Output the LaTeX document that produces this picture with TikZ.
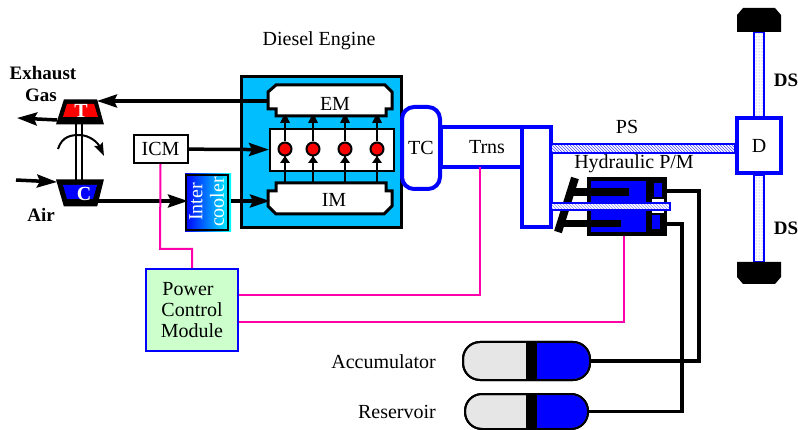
\documentclass[tikz,border=0pt]{standalone}
\usepackage{fontspec}
\setmainfont{Liberation Serif}
\usetikzlibrary{arrows.meta, patterns}

\definecolor{enginecyan}{RGB}{0,190,255}
\definecolor{pcmgreen}{RGB}{204,255,204}
\definecolor{wiremagenta}{RGB}{255,0,170}
\definecolor{tankgrey}{RGB}{230,230,230}

\tikzset{
  label text/.style={font=\fontsize{20}{22}\selectfont, inner sep=0pt, text=black},
  bold text/.style={label text, font=\fontsize{19}{21}\selectfont\bfseries},
  blue box/.style={draw=blue, line width=4pt, inner sep=0pt, label text},
  black box/.style={draw=black, inner sep=0pt, label text},
  pipe/.style={line width=3.4pt, black},
  big arrow/.style={line width=3.5pt, -{Stealth[length=20pt, width=13pt, inset=3pt]}},
  wire/.style={wiremagenta, line width=2pt},
  hatched/.style={draw=blue, line width=2pt, preaction={fill=white}, pattern=north west lines, pattern color=blue!70},
}

\begin{document}
\begin{tikzpicture}[x=1pt, y=-1pt]
\useasboundingbox (0,0) rectangle (798,430);

% Engine block with manifolds
\node[black box, fill=enginecyan, line width=3.5pt, minimum width=160pt, minimum height=151pt] (engine) at (321.5,152) {};
\node[label text] at (319,41) {Diesel Engine};
\draw[line width=3pt, fill=white] (276,85) -- (385,85) -- (392,92) -- (392,109) -- (386,109) -- (386,116) -- (276,116) -- (276,109) -- (268,109) -- (268,92) -- cycle;
\draw[line width=3pt, fill=white] (276,183) -- (386,183) -- (386,191) -- (392,191) -- (392,206) -- (384,214) -- (276,214) -- (268,206) -- (268,191) -- (276,191) -- cycle;
\node[label text, minimum width=124pt, minimum height=24pt] (em) at (335,104) {EM};
\node[label text, minimum width=124pt, minimum height=24pt] (im) at (334,200) {IM};
\node[black box, fill=white, line width=2pt, minimum width=124pt, minimum height=42pt] (cyl) at (332,150) {};

% Cylinders and valves
\foreach \i/\xpos in {1/285, 2/313, 3/345, 4/377} {
  \node[circle, draw=black, fill=red, line width=2pt, minimum size=13pt, inner sep=0pt] (v\i) at (\xpos,149) {};
  \coordinate (top\i) at (\xpos,116);
  \coordinate (low\i) at (\xpos,183);
  \draw[line width=2pt] (v\i) -- (top\i);
  \draw[line width=2pt] (v\i) -- (low\i);
  \fill (\xpos-5,123) -- (\xpos-2,117) -- (\xpos+2,117) -- (\xpos+5,123) -- cycle;
  \fill (\xpos-5,163) -- (\xpos,156) -- (\xpos+5,163) -- cycle;
}

% Turbocharger
\draw[line width=3pt, fill=black] (65,101) -- (96,101) -- (102,123) -- (58,123) -- cycle;
\fill[red] (67,104) -- (94,104) -- (98,117) -- (63,117) -- cycle;
\node[label text, text=white, font=\fontsize{20}{22}\selectfont\bfseries] (turbine) at (81,111) {T};
\draw[line width=3pt, fill=black] (58,181) -- (102,181) -- (96,205) -- (65,205) -- cycle;
\fill[blue] (63,185) -- (97,185) -- (93,199) -- (67,199) -- cycle;
\node[label text, text=white, font=\fontsize{20}{22}\selectfont\bfseries] (comp) at (84,194) {C};
\draw[line width=2pt] (76,124) -- (76,180);
\draw[line width=2pt] (82,124) -- (82,180);
\draw[line width=2pt, -{Stealth[length=13pt, width=9pt, inset=2pt]}] (58,149) .. controls (62,136) and (72,135) .. (79,135) .. controls (90,135) and (98,143) .. (104,156);
\node[bold text] at (43,73) {Exhaust};
\node[bold text] at (41,95) {Gas};
\node[bold text] at (41,215) {Air};
\coordinate (exhaustin) at (57,120);
\coordinate (exhaustout) at (17,118);
\coordinate (airin) at (16,180);
\coordinate (airout) at (57,182);
\draw[big arrow] (exhaustin) -- (exhaustout);
\draw[big arrow] (airin) -- (airout);

% Intercooler and ICM
\shade[left color=blue, right color=cyan] (185,174) rectangle (231,232);
\node[black box, line width=2pt, minimum width=42pt, minimum height=55pt] (cooler) at (207,202.5) {};
\node[label text, text=white, rotate=90] at (196,202) {Inter};
\node[label text, text=white, rotate=90] at (217,202) {cooler};
\node[black box, fill=white, line width=2pt, minimum width=54pt, minimum height=28pt] (icm) at (160.5,149) {ICM};

% Air and exhaust paths
\coordinate (tin) at (97,101);
\coordinate (cout) at (97,201);
\coordinate (emin) at (268,101);
\coordinate (imin) at (270,201);
\coordinate (coolerout) at (231,201);
\coordinate (coolerin) at (188,201);
\draw[big arrow] (emin) -- (tin);
\draw[big arrow] (cout) -- (coolerin);
\draw[big arrow] (coolerout) -- (imin);
\draw[big arrow] (icm) -- (cyl);

% Driveline
\node[blue box, minimum width=81pt, minimum height=40pt] (trns) at (481.5,147) {\hspace*{11pt}Trns};
\node[blue box, fill=white, minimum width=38pt, minimum height=82pt, rounded corners=12pt] (tc) at (421,148) {TC};
\node[blue box, fill=white, minimum width=29pt, minimum height=100pt] (gear) at (536.5,177) {};
\draw[hatched] (551,144) rectangle (735,153);
\node[label text] at (627,127) {PS};
\draw[hatched, pattern=dots, pattern color=blue!55] (754,32) rectangle (764,117);
\draw[hatched, pattern=dots, pattern color=blue!55] (754,175) rectangle (764,262);
\node[blue box, fill=white, minimum width=44pt, minimum height=55pt] (diff) at (759,146) {D};
\node[bold text] at (786,80) {DS};
\node[bold text] at (786,228) {DS};
\fill (743,8) -- (775,8) -- (781,15) -- (781,32) -- (737,32) -- (737,15) -- cycle;
\fill (737,262) -- (781,262) -- (781,277) -- (775,284) -- (743,284) -- (737,277) -- cycle;

% Hydraulic pump/motor
\node[label text] at (634,164) {Hydraulic P/M};
\node[black box, fill=blue, line width=4pt, minimum width=76pt, minimum height=55pt] (pm) at (626.5,206.5) {};
\fill (646,179) rectangle (666,234);
\fill[blue] (654,183) rectangle (662,197);
\fill[blue] (652,215) rectangle (660,229);
\fill[white] (652,199) rectangle (664,213);
\draw[line width=8pt] (575,178) -- (558,232);
\fill (572,188) rectangle (629,196);
\fill (564,220) rectangle (621,227);
\draw[hatched, pattern color=blue!45] (551,203) rectangle (670,210);

% Accumulator and reservoir
\node[black box, fill=tankgrey, line width=2pt, rounded corners=17pt, minimum width=127pt, minimum height=38pt] (acc) at (526.5,361) {};
\node[black box, fill=tankgrey, line width=2pt, rounded corners=17pt, minimum width=123pt, minimum height=35pt] (res) at (526.5,411.5) {};
\fill[blue, rounded corners=16pt] (530,343) -- (589,343) -- (589,379) -- (530,379) -- cycle;
\fill[blue, rounded corners=16pt] (530,395) -- (587,395) -- (587,428) -- (530,428) -- cycle;
\fill[blue] (530,343) rectangle (550,379);
\fill[blue] (530,395) rectangle (550,428);
\fill (526,343) rectangle (537,379);
\fill (526,395) rectangle (537,428);
\draw[line width=2pt, rounded corners=17pt] (463,342) rectangle (590,380);
\draw[line width=2pt, rounded corners=17pt] (465,394) rectangle (588,429);
\node[label text, anchor=east] at (436,362) {Accumulator};
\node[label text, anchor=east] at (436,412) {Reservoir};

% Hydraulic lines
\coordinate (portA) at (666,191);
\coordinate (portB) at (666,224);
\coordinate (cornerA) at (699,191);
\coordinate (cornerB) at (682,224);
\draw[pipe] (portA) -- (cornerA) |- (acc.east);
\draw[pipe] (portB) -- (cornerB) |- (res.east);

% Power control module and signal wires
\node[draw=blue, fill=pcmgreen, line width=2pt, label text, align=center, inner sep=0pt, minimum width=92pt, minimum height=82pt] (pcm) at (192,310) {\hspace*{-8pt}Power\\[-1pt]Control\\[-1pt]Module};
\coordinate (icmbend) at (160,249);
\coordinate (pcmbend) at (192,249);
\coordinate (trnsdrop) at (480,167);
\coordinate (pmdrop) at (624,236);
\draw[wire] (icm.south) -- (icmbend) -- (pcmbend) -- (pcm.north);
\draw[wire] (pcm.east |- 0,295) -| (trnsdrop);
\draw[wire] (pcm.east |- 0,322) -| (pmdrop);

\end{tikzpicture}
\end{document}
